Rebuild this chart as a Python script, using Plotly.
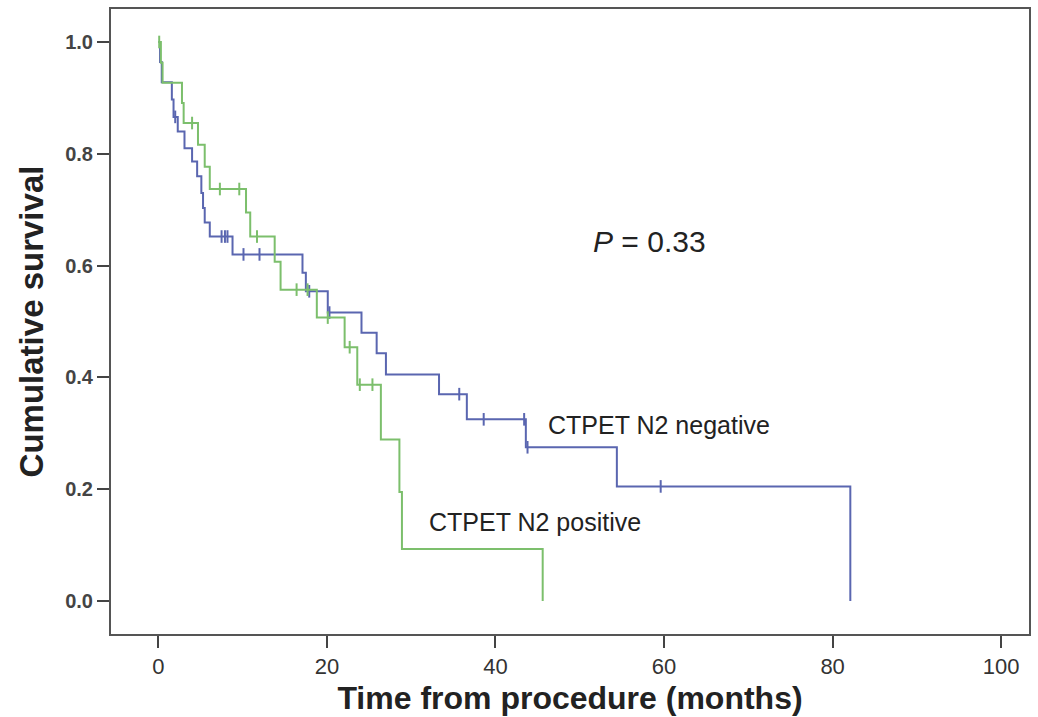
import plotly.graph_objects as go
import numpy as np

# CTPET N2 negative (blue): event times (months) and survival after each step
neg_times = [0, 0.2, 0.4, 1.6, 1.8, 2.3, 3.1, 4.0, 4.6, 5.1, 5.3, 5.5, 6.1, 8.8,
             17.1, 17.5, 20.1, 24.1, 25.9, 27.0, 33.3, 36.6, 43.6, 54.4, 82.1]
neg_surv = [1.0, 0.964, 0.928, 0.897, 0.866, 0.840, 0.810, 0.786, 0.760, 0.730, 0.703, 0.677, 0.652, 0.620,
            0.587, 0.554, 0.516, 0.480, 0.443, 0.405, 0.370, 0.325, 0.275, 0.205, 0.0]
neg_censor = [2.0, 7.5, 7.9, 8.2, 10.1, 12.0, 17.9, 20.3, 35.7, 38.6, 43.4, 43.8, 59.6]

# CTPET N2 positive (green)
pos_times = [0, 0.3, 0.5, 2.8, 3.0, 4.7, 5.5, 6.1, 10.4, 10.9, 13.8, 14.5, 18.8,
             22.1, 23.6, 26.4, 28.6, 28.9, 45.6]
pos_surv = [1.0, 0.963, 0.927, 0.891, 0.855, 0.816, 0.777, 0.737, 0.695, 0.652, 0.607, 0.557, 0.507,
            0.454, 0.387, 0.289, 0.195, 0.093, 0.0]
pos_censor = [0.1, 4.0, 7.3, 9.6, 11.7, 16.4, 17.7, 20.1, 22.7, 23.9, 25.4]

x_ticks = [0, 20, 40, 60, 80, 100]
y_ticks = [0.0, 0.2, 0.4, 0.6, 0.8, 1.0]

BLUE = "#5a66b0"
GREEN = "#7cbf6c"
FONT = "Liberation Sans, Arial, sans-serif"


def surv_at(times, surv, t):
    idx = np.searchsorted(times, t, side="right") - 1
    return surv[max(idx, 0)]


fig = go.Figure()
for times, surv, cens, col, name in [
    (neg_times, neg_surv, neg_censor, BLUE, "CTPET N2 negative"),
    (pos_times, pos_surv, pos_censor, GREEN, "CTPET N2 positive"),
]:
    fig.add_trace(go.Scatter(x=times, y=surv, mode="lines", line=dict(color=col, width=2, shape="hv"),
                             name=name, showlegend=False))
    fig.add_trace(go.Scatter(x=cens, y=[surv_at(times, surv, t) for t in cens], mode="markers",
                             marker=dict(symbol="line-ns", size=9, line=dict(color=col, width=2)),
                             name=name + " censored", showlegend=False))

fig.add_annotation(x=51.3, y=0.643, xanchor="left", yanchor="middle", showarrow=False,
                   text="<i>P</i> = 0.33", font=dict(family=FONT, size=30, color="#222"))
fig.add_annotation(x=46.0, y=0.314, xanchor="left", yanchor="middle", showarrow=False,
                   text="CTPET N2 negative", font=dict(family=FONT, size=25, color="#222"))
fig.add_annotation(x=31.9, y=0.141, xanchor="left", yanchor="middle", showarrow=False,
                   text="CTPET N2 positive", font=dict(family=FONT, size=25, color="#222"))

fig.update_layout(
    width=1038, height=717,
    margin=dict(l=111, r=7, t=9, b=82),
    paper_bgcolor="white", plot_bgcolor="white",
    font=dict(family=FONT, color="#333"),
)
fig.update_xaxes(
    range=[-5.62, 103.3], tickvals=x_ticks, ticktext=[str(v) for v in x_ticks],
    showgrid=False, zeroline=False, showline=True, linecolor="#555", linewidth=2, mirror=True,
    ticks="outside", ticklen=12, tickwidth=2, tickcolor="#444",
    tickfont=dict(family=FONT, size=22, color="#333"),
    title=dict(text="<b>Time from procedure (months)</b>", font=dict(family=FONT, size=32, color="#222"), standoff=8),
)
fig.update_yaxes(
    range=[-0.059, 1.059], tickvals=y_ticks, ticktext=[f"<b>{v:.1f}</b>" for v in y_ticks],
    showgrid=False, zeroline=False, showline=True, linecolor="#555", linewidth=2, mirror=True,
    ticks="outside", ticklen=12, tickwidth=2, tickcolor="#444",
    tickfont=dict(family=FONT, size=20, color="#444"),
    title=dict(text="<b>Cumulative survival</b>", font=dict(family=FONT, size=33, color="#222"), standoff=12),
)

fig.write_html("out.html", config={"displayModeBar": False},
               post_script="document.body.style.margin='0';document.body.style.overflow='hidden';")
